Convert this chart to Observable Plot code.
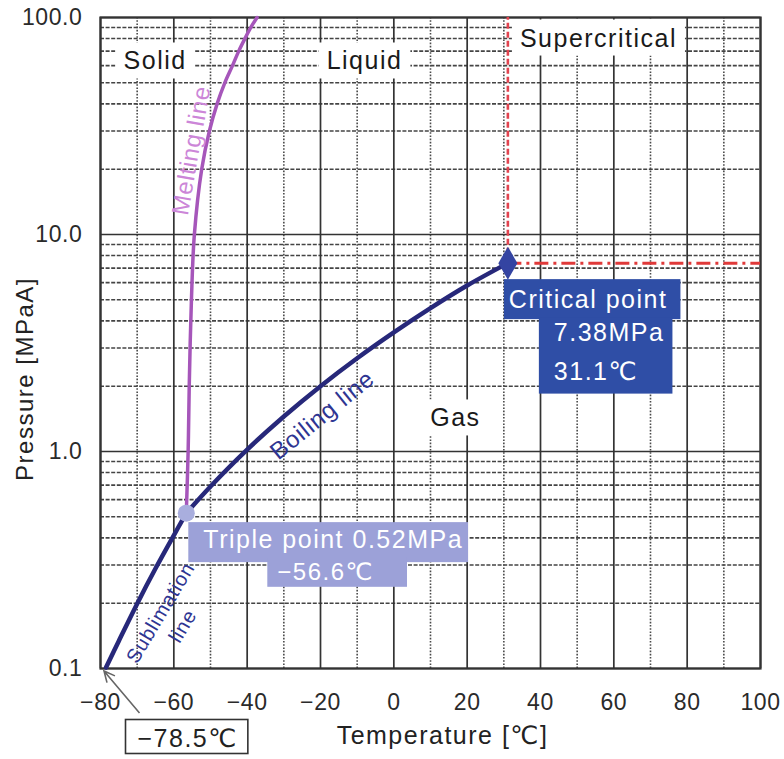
<!DOCTYPE html>
<html><head><meta charset="utf-8">
<script src="https://cdn.jsdelivr.net/npm/d3@7"></script>
<script src="https://cdn.jsdelivr.net/npm/@observablehq/plot@0.6"></script>
<style>
html,body{margin:0;padding:0;background:#fff}
#chart svg{display:block}
#chart svg text{letter-spacing:1.5px}
#chart svg g[aria-label$="tick label"] text{letter-spacing:0.6px}
#chart svg g.lb-curve text{letter-spacing:0.8px}
</style></head><body><div id="chart"></div>
<script>
// ---- axes ----
const xTicks = [-80, -60, -40, -20, 0, 20, 40, 60, 80, 100];
const xMinorGrid = [-70, -50, -30, -10, 10, 30, 50, 70, 90];
const yDecades = [0.1, 1, 10, 100];
const yTickLabels = ["0.1", "1.0", "10.0", "100.0"];
const yMinorSteps = [2, 3, 4, 5, 6, 7, 8, 9];
const xLabel = "Temperature [℃]";
const yLabel = "Pressure [MPaA]";

// ---- phase boundary curves (°C, MPa) ----
const sublimationT = [-78.5, -75, -70, -65, -60, -56.6];
const sublimationP = [0.101, 0.134, 0.199, 0.289, 0.411, 0.52];
const boilingT = [-56.6, -50, -40, -30, -20, -10, 0, 10, 20, 31.1];
const boilingP = [0.52, 0.69, 1.02, 1.45, 2.0, 2.69, 3.54, 4.58, 5.82, 7.38];
const meltingT = [-56.6, -56.1, -55.8, -55.2, -54.4, -52.4, -50.3, -48.2, -46.1, -44.0, -42.3, -40.6, -39.0, -37.3];
const meltingP = [0.52, 1, 2, 5, 10, 20, 30, 40, 50, 60, 70, 80, 90, 100];

// ---- special points ----
const tripleT = -56.6, tripleP = 0.52;
const criticalT = 31.1, criticalP = 7.38;
const dryIceT = -78.5, dryIceP = 0.1;

// ---- annotations ----
const regionNames = ["Solid", "Liquid", "Supercritical", "Gas"];
const regionT = [-65.1, -8.0, 55.8, 16.8];
const regionP = [62.7, 62.7, 80, 1.42];
const curveNames = ["Melting line", "Boiling line", "Sublimation\nline"];
const curveLabelT = [-55.2, -19.5, -61.0];
const curveLabelP = [24.4, 1.47, 0.170];
const criticalText1 = "Critical point";
const criticalText2 = "7.38MPa\n31.1℃";
const tripleText1 = "Triple point 0.52MPa";
const tripleText2 = "−56.6℃";
const dryIceText = "−78.5℃";

const zip = (T, P) => T.map((t, i) => ({T: t, P: P[i]}));
const sublimation = zip(sublimationT, sublimationP);
const boiling = zip(boilingT, boilingP);
const melting = zip(meltingT, meltingP);
const yMinor = yDecades.slice(0, -1).flatMap(d => yMinorSteps.map(m => d * m));
const triple = [{T: tripleT, P: tripleP}];
const critical = [{T: criticalT, P: criticalP}];
const dryIce = [{T: dryIceT, P: dryIceP}];
const regions = regionNames.map((n, i) => ({n, T: regionT[i], P: regionP[i]}));
const curveLbl = curveNames.map((n, i) => ({n, T: curveLabelT[i], P: curveLabelP[i]}));

const FONT = "'Liberation Sans', Arial, 'DejaVu Sans', 'Noto Sans CJK JP', sans-serif";
const navy = "#27287a";
const purple = "#a656ba";

const chart = Plot.plot({
  width: 784, height: 759,
  marginLeft: 100, marginRight: 24, marginTop: 17, marginBottom: 91,
  x: {domain: [xTicks[0], xTicks[xTicks.length - 1]]},
  y: {type: "log", domain: [yDecades[0], yDecades[yDecades.length - 1]]},
  style: {fontFamily: FONT, background: "#fff", color: "#2a2a2a"},
  marks: [
    // grid
    Plot.ruleY(yMinor, {stroke: "#444", strokeWidth: 1.6, strokeDasharray: "4,1.6"}),
    Plot.ruleX(xMinorGrid, {stroke: "#4a4a4a", strokeWidth: 1.6, strokeDasharray: "1.6,1.6"}),
    Plot.ruleX(xTicks, {stroke: "#333", strokeWidth: 1.7}),
    Plot.ruleY(yDecades, {stroke: "#333", strokeWidth: 1.7}),
    Plot.frame({stroke: "#333", strokeWidth: 2.2}),
    // critical reference lines
    Plot.ruleX(critical, {x: "T", y1: "P", y2: () => yDecades[yDecades.length - 1], stroke: "#e2434f", strokeWidth: 2.6, strokeDasharray: "6,3"}),
    Plot.ruleY(critical, {y: "P", x1: "T", x2: () => xTicks[xTicks.length - 1], stroke: "#e03a3a", strokeWidth: 3, strokeDasharray: "14,5,3,5"}),
    // phase curves
    Plot.line(melting, {x: "T", y: "P", stroke: purple, strokeWidth: 3.5, curve: "catmull-rom"}),
    Plot.line(sublimation, {x: "T", y: "P", stroke: navy, strokeWidth: 4.5, curve: "catmull-rom"}),
    Plot.line(boiling, {x: "T", y: "P", stroke: navy, strokeWidth: 4.5, curve: "catmull-rom"}),
    Plot.dot(triple, {x: "T", y: "P", r: 8.5, fill: "#a9aede", stroke: "none"}),
    Plot.dot(critical, {x: "T", y: "P", r: 10, symbol: "diamond", fill: "#3444a2", stroke: "none"}),
    // axes
    Plot.axisX(xTicks, {tickSize: 0, tickPadding: 25, fontSize: 23, label: null,
      tickFormat: d => d < 0 ? "−" + Math.abs(d) : String(d)}),
    Plot.axisY(yDecades, {tickSize: 0, tickPadding: 18, fontSize: 23, label: null,
      tickFormat: d => yTickLabels[yDecades.indexOf(d)]}),
    Plot.text([xLabel], {frameAnchor: "bottom", text: d => d, dx: 12, dy: 67, lineAnchor: "middle", textAnchor: "middle", fontSize: 25, fill: "#222"}),
    Plot.text([yLabel], {frameAnchor: "left", text: d => d, dx: -75, dy: 36, rotate: -90, lineAnchor: "middle", textAnchor: "middle", fontSize: 24, fill: "#222"}),
    // curve labels
    Plot.text([curveLbl[0]], {x: "T", y: "P", text: "n", rotate: -80, fontSize: 24, fill: "#cc86d8", className: "lb-curve"}),
    Plot.text([curveLbl[1]], {x: "T", y: "P", text: "n", rotate: -39, fontSize: 24, fill: "#2e3592", className: "lb-curve"}),
    Plot.text([curveLbl[2]], {x: "T", y: "P", text: "n", rotate: -59, fontSize: 20, lineHeight: 1.3, fill: "#2e3592", className: "lb-curve"}),
    // boxed labels
    Plot.text(regions, {x: "T", y: "P", text: "n", fontSize: 25, fill: "#1a1a1a", className: "lb-region"}),
    Plot.text(critical, {x: "T", y: "P", text: () => criticalText1, dx: 1, dy: 37, textAnchor: "start", fontSize: 25, fill: "#fff", className: "lb-crit1"}),
    Plot.text(critical, {x: "T", y: "P", text: () => criticalText2, dx: 46, dy: 84.5, textAnchor: "start", lineHeight: 1.56, fontSize: 25, fill: "#fff", className: "lb-crit2"}),
    Plot.text(triple, {x: "T", y: "P", text: () => tripleText1, dx: 17, dy: 27, textAnchor: "start", fontSize: 25, fill: "#fff", className: "lb-trip1"}),
    Plot.text(triple, {x: "T", y: "P", text: () => tripleText2, dx: 91, dy: 59, textAnchor: "start", fontSize: 24, fill: "#fff", className: "lb-trip2"}),
    Plot.text(dryIce, {x: "T", y: "P", text: () => dryIceText, dx: 31.5, dy: 70, textAnchor: "start", fontSize: 25, fill: "#222", className: "lb-temp"})
  ]
});

document.getElementById("chart").append(chart);

// label background boxes, sized from the rendered text
const NS = "http://www.w3.org/2000/svg";
const boxes = [
  {cls: "lb-region", fill: "#fff", stroke: "none", pad: [4, 8, 4, 8]},
  {cls: "lb-crit1", fill: "#2f4ea6", stroke: "none", pad: [6, 13, 6, 5]},
  {cls: "lb-crit2", fill: "#2f4ea6", stroke: "none", pad: [0, 8, 9, 15]},
  {cls: "lb-trip1", fill: "#9ca1d8", stroke: "none", pad: [3, 5, 9, 15]},
  {cls: "lb-trip2", fill: "#9ca1d8", stroke: "none", pad: [0, 33, 2, 10]},
  {cls: "lb-temp", fill: "#fff", stroke: "#333", pad: [4, 10, 2, 12]}
];
const firstLabel = chart.querySelector("g.lb-region");
const bg = document.createElementNS(NS, "g");
if (firstLabel) firstLabel.parentNode.insertBefore(bg, firstLabel);
else chart.append(bg);
for (const b of boxes) {
  chart.querySelectorAll(`g.${b.cls} text`).forEach(t => {
    const bb = t.getBBox();
    const m = t.getCTM();
    const [pt, pr, pb, pl] = b.pad;
    const r = document.createElementNS(NS, "rect");
    r.setAttribute("x", bb.x + m.e - pl);
    r.setAttribute("y", bb.y + m.f - pt);
    r.setAttribute("width", bb.width + pl + pr);
    r.setAttribute("height", bb.height + pt + pb);
    r.setAttribute("fill", b.fill);
    if (b.stroke !== "none") { r.setAttribute("stroke", b.stroke); r.setAttribute("stroke-width", 1.6); }
    bg.append(r);
  });
}

// pointer arrow from the −78.5℃ box to the curve start
const sx = chart.scale("x"), sy = chart.scale("y");
const px = sx.apply(dryIceT), py = sy.apply(dryIceP);
const x1 = px + 34, y1 = py + 45, x2 = px - 1.5, y2 = py + 3;
const ang = Math.atan2(y2 - y1, x2 - x1), L = 12, w = 0.45;
const a = document.createElementNS(NS, "path");
a.setAttribute("d", `M${x1},${y1}L${x2},${y2}M${x2 - L * Math.cos(ang - w)},${y2 - L * Math.sin(ang - w)}L${x2},${y2}L${x2 - L * Math.cos(ang + w)},${y2 - L * Math.sin(ang + w)}`);
a.setAttribute("stroke", "#666");
a.setAttribute("stroke-width", 1.6);
a.setAttribute("fill", "none");
chart.append(a);
</script>
</body></html>
